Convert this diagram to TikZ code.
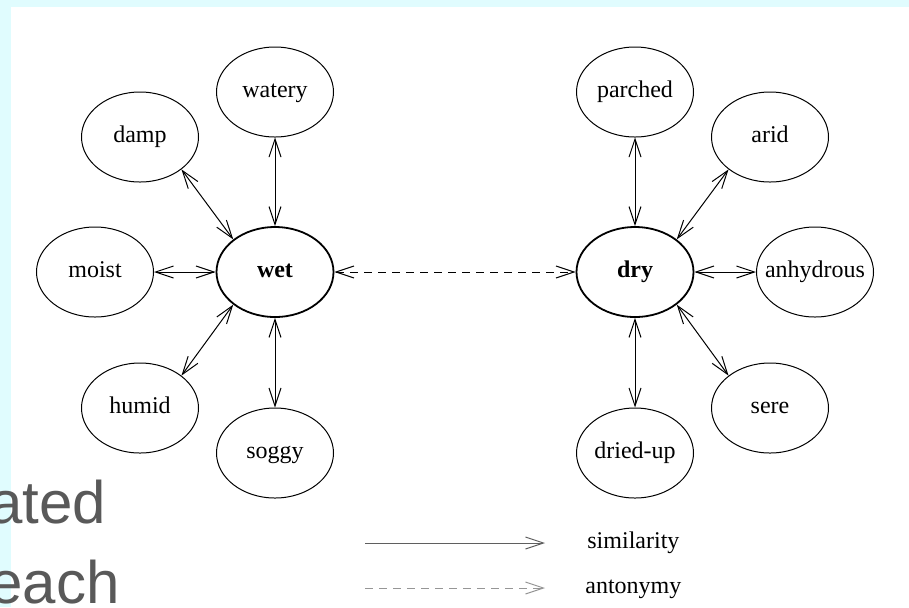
\documentclass[tikz,border=0pt]{standalone}
\usepackage{fontspec}
\setmainfont{Liberation Serif}
\newfontfamily\slidefont{Liberation Sans}
\usetikzlibrary{shapes.geometric, arrows.meta}
\definecolor{slidecyan}{RGB}{224,252,254}
\definecolor{slidegray}{RGB}{89,89,89}
\definecolor{keygray}{RGB}{95,95,95}
\definecolor{keylight}{RGB}{150,150,150}

\begin{document}
\begin{tikzpicture}[x=0.5pt, y=-0.5pt,
    barb/.tip={Straight Barb[length=9pt, width=6pt]},
    word/.style={ellipse, draw, line width=0.5pt, minimum width=58.5pt, minimum height=45pt,
      inner sep=0pt, text height=8pt, text depth=2.5pt, font=\fontsize{12}{14}\selectfont},
    head/.style={word, line width=0.9pt, font=\fontsize{12}{14}\selectfont\bfseries},
    sim/.style={line width=0.5pt, barb-barb},
    ant/.style={sim, dash pattern=on 4pt off 3pt},
    keytext/.style={anchor=base west, inner sep=0pt, font=\fontsize{12}{14}\selectfont},
    slidetext/.style={anchor=base west, inner sep=0pt, text=slidegray,
      font=\slidefont\fontsize{30}{36}\selectfont}]
  \fill[slidecyan] (0,0) rectangle (909,607);
  \fill[white] (11,7) rectangle (909,607);
  \useasboundingbox (0,0) rectangle (909,607);

  % the two heads
  \node[head] (wet) at (275,272) {wet};
  \node[head] (dry) at (635,272) {dry};

  % similar words
  \node[word] (watery) at (275,92) {watery};
  \node[word] (damp) at (140,137) {damp};
  \node[word] (moist) at (95,272) {moist};
  \node[word] (humid) at (140,408) {humid};
  \node[word] (soggy) at (275,453) {soggy};
  \node[word] (parched) at (635,92) {parched};
  \node[word] (arid) at (770,137) {arid};
  \node[word] (anhydrous) at (815,272) {\makebox[0pt]{anhydrous}};
  \node[word] (sere) at (770,408) {sere};
  \node[word] (driedup) at (635,453) {dried-up};

  \draw[sim] (watery) -- (wet);
  \draw[sim] (damp.-38) -- (wet.142);
  \draw[sim] (moist) -- (wet);
  \draw[sim] (humid.38) -- (wet.218);
  \draw[sim] (soggy) -- (wet);
  \draw[sim] (parched) -- (dry);
  \draw[sim] (arid.218) -- (dry.38);
  \draw[sim] (anhydrous) -- (dry);
  \draw[sim] (sere.142) -- (dry.-38);
  \draw[sim] (driedup) -- (dry);
  \draw[ant] (wet) -- (dry);

  % key
  \coordinate (simfrom) at (365,543);
  \coordinate (simto) at (545,543);
  \coordinate (antfrom) at (365,588);
  \coordinate (antto) at (545,588);
  \draw[line width=0.5pt, keygray, -barb] (simfrom) -- (simto);
  \draw[line width=0.5pt, keylight, dash pattern=on 4pt off 3pt, -barb] (antfrom) -- (antto);
  \node[keytext] (simlabel) at (587,548) {similarity};
  \node[keytext] (antlabel) at (585,593) {antonymy};

  % slide text behind the figure
  \node[slidetext] (ated) at (-11,523) {ated};
  \node[slidetext] (each) at (-11,603) {each};
\end{tikzpicture}
\end{document}
